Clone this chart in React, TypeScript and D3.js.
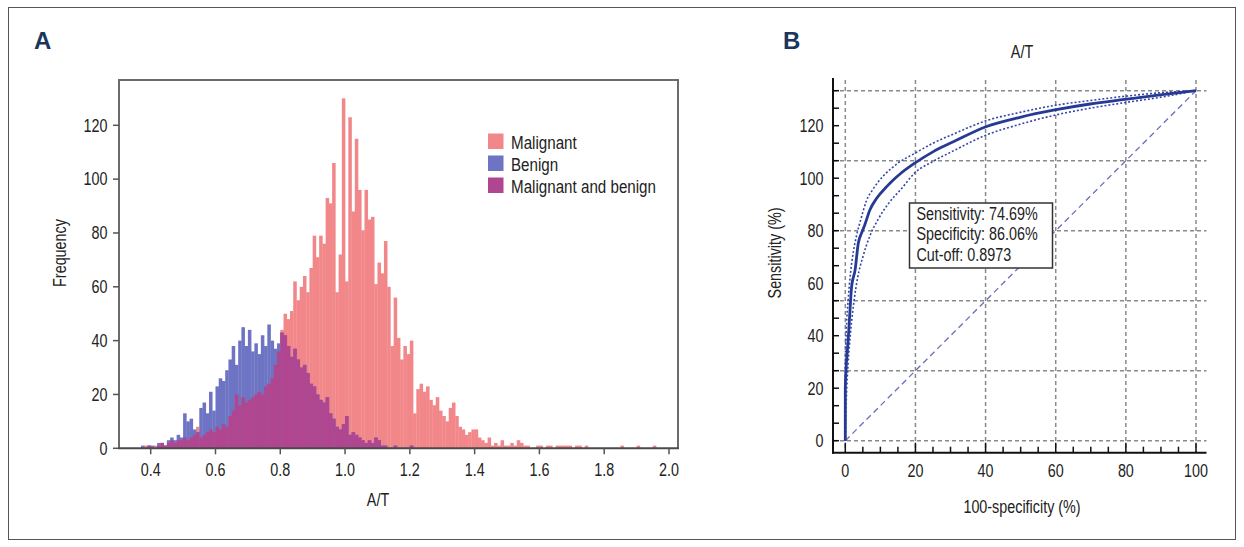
import React, { useEffect, useRef } from "react";
import * as d3 from "d3";

// ---- panel A: A/T histogram (bins of 0.01 starting at 0.37) ----
const binStart = 0.37;
const binWidth = 0.01;
const malignant = [
  0, 1, 1, 0, 1, 1, 2, 1, 2, 3, 2, 3, 3, // 0.37 - 0.49
  4, 3, 4, 5, 8, 4, 5, 6, 7, 6, // 0.50 - 0.59
  8, 7, 9, 8, 12, 14, 20, 16, 19, 17, // 0.60 - 0.69
  18, 19, 20, 21, 20, 23, 24, 26, 31, 36, // 0.70 - 0.79
  44, 50, 48, 51, 62, 55, 60, 64, 58, 67, // 0.80 - 0.89
  79, 71, 79, 76, 93, 91, 106, 58, 72, 130, // 0.90 - 0.99
  62, 123, 88, 115, 96, 81, 96, 85, 86, 61, // 1.00 - 1.09
  69, 65, 77, 60, 38, 56, 41, 33, 38, 35, // 1.10 - 1.19
  40, 13, 22, 24, 21, 23, 18, 16, 19, 14, // 1.20 - 1.29
  12, 10, 15, 17, 12, 8, 7, 5, 6, 7, // 1.30 - 1.39
  7, 4, 3, 2, 4, 1, 2, 1, 3, 1, // 1.40 - 1.49
  1, 2, 1, 3, 2, 1, 1, 0, 0, 1, // 1.50 - 1.59
  1, 0, 1, 1, 0, 1, 1, 1, 1, 1, // 1.60 - 1.69
  0, 1, 1, 0, 1, 0, 0, 0, 0, 0, // 1.70 - 1.79
  0, 0, 0, 0, 0, 1, 0, 0, 0, 0, // 1.80 - 1.89
  1, 0, 0, 0, 0, 1, // 1.90 - 1.95
];
const benign = [
  1, 0, 1, 1, 0, 2, 2, 1, 3, 4, 3, 5, 4, // 0.37 - 0.49
  13, 10, 11, 7, 6, 15, 17, 13, 21, 14, // 0.50 - 0.59
  23, 26, 25, 29, 33, 38, 31, 40, 45, 38, // 0.60 - 0.69
  44, 36, 39, 35, 42, 38, 46, 40, 37, 39, // 0.70 - 0.79
  43, 42, 38, 34, 37, 33, 30, 31, 28, 24, // 0.80 - 0.89
  23, 20, 18, 17, 19, 13, 11, 8, 7, 9, // 0.90 - 0.99
  12, 5, 6, 5, 4, 3, 2, 3, 2, 4, // 1.00 - 1.09
  3, 1, 1, 0, 0, 1, 0, 0, 0, 0, // 1.10 - 1.19
  1, // 1.20
];
const histXTicks = [0.4, 0.6, 0.8, 1.0, 1.2, 1.4, 1.6, 1.8, 2.0];
const histYTicks = [0, 20, 40, 60, 80, 100, 120];
const legendItems = ["Malignant", "Benign", "Malignant and benign"];

// ---- panel B: ROC curve of A/T ----
const rocFpr = [0, 0, 0.2, 0.6, 1.0, 1.4, 1.8, 2.8, 3.7, 4.7, 5.5, 7.0, 8.9, 11.8, 13.9, 15.6, 19.8, 25.1, 30.8, 40.1, 49.8, 59.7, 69.8, 79.7, 89.7, 100];
const rocTpr = [0, 15, 20.2, 25.9, 31.6, 38.3, 44, 48.8, 56.4, 59.5, 61.5, 65.9, 69.2, 72.6, 74.7, 76.2, 79.3, 82.6, 85.4, 89.7, 92.4, 94.5, 96.2, 97.5, 98.8, 100];
const upperFpr = [0, 0, 0.3, 0.8, 1.5, 2.3, 3.3, 4.5, 6, 8, 11, 15, 19.8, 25, 30.8, 40.1, 49.8, 59.7, 69.8, 79.7, 89.7, 100];
const upperTpr = [0, 22, 32, 40, 48, 54, 59, 63.5, 68.5, 72, 75.8, 79.3, 82.1, 85, 87.6, 91.4, 93.8, 95.8, 97.2, 98.4, 99.4, 100];
const lowerFpr = [0, 0.3, 0.8, 1.5, 2.5, 3.5, 5, 7, 9.5, 12.5, 16, 19.8, 25, 30.8, 40.1, 49.8, 59.7, 69.8, 79.7, 89.7, 100];
const lowerTpr = [0, 12, 22, 31, 40, 46.5, 52.5, 58.5, 63.5, 68, 72, 76.5, 79.8, 82.8, 87.3, 90.4, 93, 95, 96.6, 98.1, 100];
const rocGrid = [0, 20, 40, 60, 80, 100];
const rocYTickLabels = [0, 20, 40, 60, 80, 100, 120];
const cutoffLines = ["Sensitivity: 74.69%", "Specificity: 86.06%", "Cut-off: 0.8973"];

const FONT = '"Liberation Sans", Arial, sans-serif';
const SQUEEZE = 0.82; // condensed look
const PINK = "#f2878a";
const BLUE = "#6d74c4";
const PURPLE = "#b14690";
const NAVY = "#263a94";
const LABEL = "#1b365d";

type Sel = d3.Selection<any, any, any, any>;

// condensed text: Liberation Sans squeezed horizontally
function label(parent: Sel, x: number, y: number, s: string | number,
  opts: { size?: number; anchor?: string; rotate?: number; dy?: string } = {}) {
  const { size = 17.5, anchor = "start", rotate = 0, dy = "0" } = opts;
  const g = parent.append("g")
    .attr("transform", `translate(${x},${y})${rotate ? ` rotate(${rotate})` : ""} scale(${SQUEEZE},1)`);
  g.append("text")
    .attr("text-anchor", anchor)
    .attr("dy", dy)
    .attr("font-family", FONT)
    .attr("font-size", size)
    .attr("fill", "#222")
    .text(s);
  return g;
}

export default function App() {
  const ref = useRef<SVGSVGElement>(null);

  useEffect(() => {
    const svg = d3.select(ref.current);
    svg.selectAll("*").remove();

    // outer figure border
    svg.append("rect")
      .attr("x", 8.5).attr("y", 7.5).attr("width", 1227).attr("height", 532)
      .attr("fill", "none").attr("stroke", "#555").attr("stroke-width", 1);

    // panel letters
    [["A", 34], ["B", 783]].forEach(([t, x]) => {
      svg.append("text").attr("x", x as number).attr("y", 49)
        .attr("font-family", FONT)
        .attr("font-weight", "bold").attr("font-size", 24)
        .attr("fill", LABEL).text(t as string);
    });

    /////////////////////////////////////////////////////////////////////////
    // Panel A
    const left = 119, right = 678, top = 80, bottom = 448.3;
    const x = d3.scaleLinear().domain([0.4, 2.0]).range([150.7, 669]);
    const y = d3.scaleLinear().domain([0, 120]).range([bottom, 125.3]);
    const gA = svg.append("g");

    const bins = malignant.map((m, i) => ({
      a: binStart + i * binWidth,
      m,
      b: benign[i] ?? 0,
    }));
    const layer = (cls: string, color: string, val: (d: any) => number) =>
      gA.append("g").attr("class", cls).selectAll("rect")
        .data(bins.filter(d => val(d) > 0))
        .join("rect")
        .attr("x", d => x(d.a))
        .attr("width", d => x(d.a + binWidth) - x(d.a) + 0.3)
        .attr("y", d => y(val(d)))
        .attr("height", d => bottom - y(val(d)))
        .attr("fill", color);
    layer("mal", PINK, d => d.m);
    layer("ben", BLUE, d => d.b);
    layer("both", PURPLE, d => Math.min(d.m, d.b));

    // frame
    gA.append("path")
      .attr("d", `M${left},${bottom}V${top}H${right}V${bottom}`)
      .attr("fill", "none").attr("stroke", "#6b6b6b").attr("stroke-width", 2);
    gA.append("line")
      .attr("x1", left - 1).attr("x2", right + 1).attr("y1", bottom).attr("y2", bottom)
      .attr("stroke", "#4a4a4a").attr("stroke-width", 2);

    // axes
    histYTicks.forEach(t => {
      gA.append("line").attr("x1", left - 6).attr("x2", left)
        .attr("y1", y(t)).attr("y2", y(t)).attr("stroke", "#555").attr("stroke-width", 1.5);
      label(gA, 107.5, y(t), t, { anchor: "end", dy: "0.36em" });
    });
    histXTicks.forEach(t => {
      gA.append("line").attr("x1", x(t)).attr("x2", x(t))
        .attr("y1", bottom).attr("y2", bottom + 6).attr("stroke", "#555").attr("stroke-width", 1.5);
      label(gA, x(t), 476, t.toFixed(1), { anchor: "middle" });
    });
    label(gA, 378, 506, "A/T", { anchor: "middle" });
    label(gA, 66, 253, "Frequency", { anchor: "middle", rotate: -90 });

    // legend
    const legendColors = [PINK, BLUE, PURPLE];
    legendItems.forEach((name, i) => {
      const ly = 133.5 + i * 22;
      gA.append("rect").attr("x", 488).attr("y", ly).attr("width", 15.5).attr("height", 15.5)
        .attr("fill", legendColors[i]);
      label(gA, 511, ly + 15.5, name, { size: 18.5 });
    });

    /////////////////////////////////////////////////////////////////////////
    // Panel B
    const gB = svg.append("g");
    const xr = d3.scaleLinear().domain([0, 100]).range([845.3, 1196]);
    const yr = d3.scaleLinear().domain([0, 100]).range([440.7, 90.7]);
    // the printed y labels run 0..120 over the 0..90 sensitivity range
    const yLabel = d3.scaleLinear().domain([0, 120]).range([yr(0), yr(90)]);
    const axisX = 833, axisY = 452.7, gridRight = 1206.5, axisTop = 78;

    // grid
    rocGrid.forEach(v => {
      gB.append("line").attr("x1", axisX).attr("x2", gridRight)
        .attr("y1", yr(v)).attr("y2", yr(v))
        .attr("stroke", "#8a8a8a").attr("stroke-width", 1.5).attr("stroke-dasharray", "4,3");
      gB.append("line").attr("x1", xr(v)).attr("x2", xr(v))
        .attr("y1", 80).attr("y2", axisY)
        .attr("stroke", "#8a8a8a").attr("stroke-width", 1.5).attr("stroke-dasharray", "4,3");
    });

    // chance diagonal
    gB.append("line").attr("x1", xr(0)).attr("y1", yr(0)).attr("x2", xr(100)).attr("y2", yr(100))
      .attr("stroke", "#6670c0").attr("stroke-width", 1.3).attr("stroke-dasharray", "6,4");

    const line = d3.line<[number, number]>()
      .x(d => xr(d[0])).y(d => yr(d[1]))
      .curve(d3.curveMonotoneX);
    const pts = (fx: number[], fy: number[]) => fx.map((v, i) => [v, fy[i]] as [number, number]);
    [pts(upperFpr, upperTpr), pts(lowerFpr, lowerTpr)].forEach(p => {
      gB.append("path").datum(p).attr("d", line)
        .attr("fill", "none").attr("stroke", "#3344aa").attr("stroke-width", 1.6)
        .attr("stroke-dasharray", "2,2");
    });
    gB.append("path").datum(pts(rocFpr, rocTpr)).attr("d", line)
      .attr("fill", "none").attr("stroke", NAVY).attr("stroke-width", 2.8);

    // axes lines
    gB.append("line").attr("x1", axisX).attr("x2", axisX).attr("y1", axisTop).attr("y2", axisY + 1)
      .attr("stroke", "#111").attr("stroke-width", 2);
    gB.append("line").attr("x1", axisX - 1).attr("x2", gridRight).attr("y1", axisY).attr("y2", axisY)
      .attr("stroke", "#111").attr("stroke-width", 2);

    // minor ticks
    d3.range(0, 101, 5).forEach(v => {
      gB.append("line").attr("x1", axisX).attr("x2", axisX + 6)
        .attr("y1", yr(v)).attr("y2", yr(v)).attr("stroke", "#111").attr("stroke-width", 1.5);
      const len = v % 20 === 0 ? 10 : 6;
      gB.append("line").attr("x1", xr(v)).attr("x2", xr(v))
        .attr("y1", axisY).attr("y2", axisY - len).attr("stroke", "#111").attr("stroke-width", 1.5);
    });

    rocYTickLabels.forEach(t => label(gB, 823.5, yLabel(t), t, { anchor: "end", dy: "0.36em" }));
    rocGrid.forEach(t => label(gB, xr(t), 477, t, { anchor: "middle" }));

    label(gB, 1022, 57.5, "A/T", { anchor: "middle" });
    label(gB, 1022, 513, "100-specificity (%)", { anchor: "middle" });
    label(gB, 781, 253, "Sensitivity (%)", { anchor: "middle", rotate: -90 });

    // cut-off box
    gB.append("rect").attr("x", 909.5).attr("y", 203).attr("width", 143).attr("height", 65)
      .attr("fill", "white").attr("stroke", "#333").attr("stroke-width", 1.5);
    cutoffLines.forEach((s, i) => label(gB, 916.5, 220 + i * 20.3, s));
  }, []);

  return (
    <svg ref={ref} width={1244} height={547}
      style={{ position: "absolute", left: 0, top: 0, background: "white" }} />
  );
}
